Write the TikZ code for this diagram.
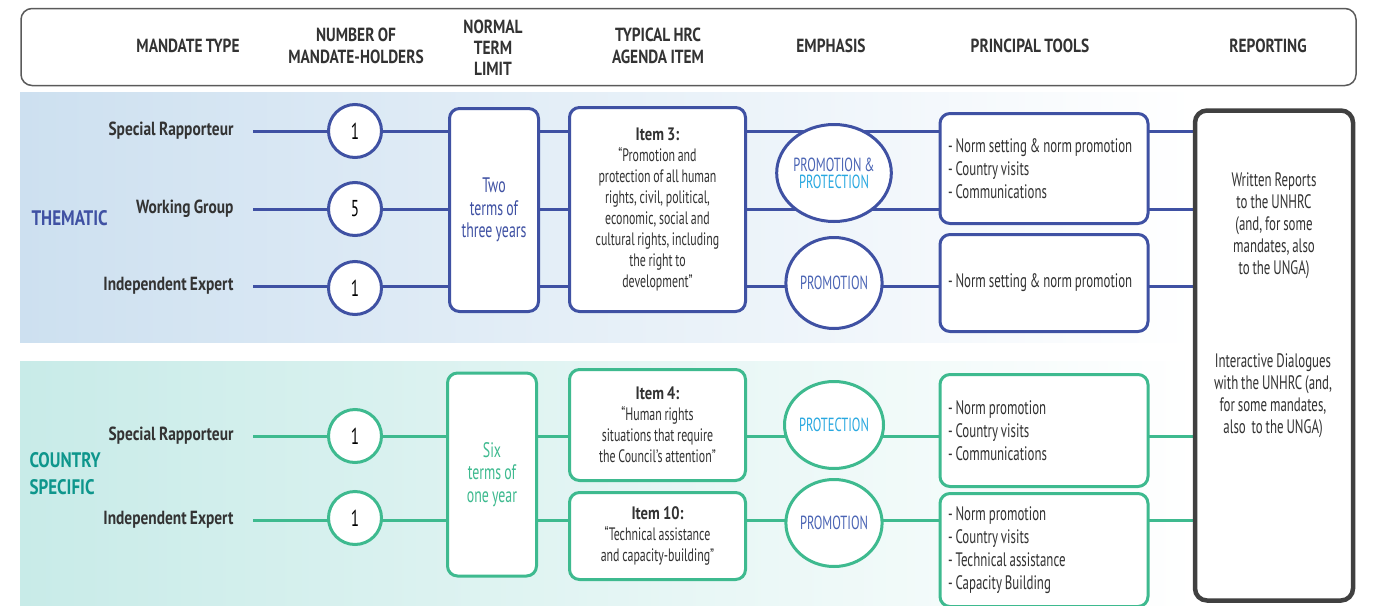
\documentclass[tikz,border=0pt]{standalone}
\usepackage{fontspec}
\setmainfont{PT Sans}[UprightFeatures={FakeStretch=0.66, WordSpace=0.85}, BoldFeatures={FakeStretch=0.81, WordSpace=0.85}]
\usetikzlibrary{shapes.geometric}
\pgfdeclarelayer{back}
\pgfdeclarelayer{lines}
\pgfsetlayers{back,lines,main}
\definecolor{blueC}{RGB}{63,81,163}
\definecolor{greenC}{RGB}{62,186,143}
\definecolor{tealT}{RGB}{14,150,140}
\definecolor{skyC}{RGB}{41,168,224}
\definecolor{promoC}{RGB}{74,100,180}
\definecolor{repC}{RGB}{64,64,64}
\definecolor{hdrLine}{RGB}{90,90,90}
\definecolor{txtC}{RGB}{51,51,51}
\definecolor{bodyC}{RGB}{50,50,50}
\definecolor{bandB}{RGB}{205,224,240}
\definecolor{bandG}{RGB}{200,235,232}
\tikzset{
 hdr/.style={font=\bfseries\fontsize{19}{21}\selectfont, text=txtC, align=center},
 lbl/.style={font=\bfseries\fontsize{19}{21}\selectfont, text=txtC, anchor=east},
 grp/.style={font=\bfseries\fontsize{21}{27}\selectfont, anchor=west, align=left},
 numc/.style={circle, draw=#1, line width=3pt, fill=white, minimum size=53pt, inner sep=0pt, font=\fontsize{23}{23}\selectfont, text=black},
 rbox/.style={draw=#1, line width=3pt, fill=white, rounded corners=10pt, inner sep=0pt, align=center},
 emph/.style={ellipse, draw=#1, line width=3pt, fill=white, inner sep=0pt, align=center, font=\fontsize{19}{17}\selectfont},
 termtxt/.style={font=\fontsize{21}{22.5}\selectfont},
 agtxt/.style={font=\fontsize{18}{21}\selectfont, text=bodyC},
 tooltxt/.style={font=\fontsize{19.5}{23}\selectfont, text=bodyC, align=flush left, text width=192pt, inner xsep=8pt},
 reptxt/.style={font=\fontsize{19.5}{22}\selectfont, text=bodyC, align=center},
 conn/.style={draw=#1, line width=3pt},
}
\begin{document}
\begin{tikzpicture}[x=1pt,y=-1pt]
\useasboundingbox (0,0) rectangle (1373,605);
% header
\node[draw=hdrLine, line width=1.5pt, rounded corners=11pt, minimum width=1335pt, minimum height=77pt, inner sep=0pt] (head) at (688.5,47) {};
\node[hdr] (h1) at (188,46) {MANDATE TYPE};
\node[hdr] (h2) at (356,46) {NUMBER OF\\[1pt]MANDATE-HOLDERS};
\node[hdr] (h3) at (493,48) {NORMAL\\TERM\\LIMIT};
\node[hdr] (h4) at (658,46) {TYPICAL HRC\\[1pt]AGENDA ITEM};
\node[hdr] (h5) at (831,46) {EMPHASIS};
\node[hdr] (h6) at (1030,46) {PRINCIPAL TOOLS};
\node[hdr] (h7) at (1268,46) {REPORTING};
% bands
\begin{pgfonlayer}{back}
\shade[left color=bandB, right color=white] (20,92) rectangle (1195,342);
\shade[left color=bandG, right color=white] (20,361) rectangle (1195,605);
\end{pgfonlayer}
% group labels
\node[grp, text=blueC] (gT) at (28,218) {THEMATIC};
\node[grp, text=tealT] (gC) at (26,474) {COUNTRY\\SPECIFIC};
% thematic rows
\node[lbl] (l1) at (237,131) {Special Rapporteur};
\node[lbl] (l2) at (237,209) {Working Group};
\node[lbl] (l3) at (237,286) {Independent Expert};
\node[numc=blueC] (n1) at (355,131) {1};
\node[numc=blueC] (n2) at (355,209) {5};
\node[numc=blueC] (n3) at (355,288) {1};
\node[rbox=blueC, minimum width=89pt, minimum height=203pt, termtxt, text=blueC] (t1) at (494,210) {Two\\terms of\\three years};
\node[rbox=blueC, minimum width=176pt, minimum height=204pt, agtxt] (a1) at (657.5,209.5) {\textbf{Item 3:}\\``Promotion and\\protection of all human\\rights, civil, political,\\economic, social and\\cultural rights, including\\the right to\\development''};
\node[emph=blueC, minimum width=105pt, minimum height=97pt] (e1) at (834,173) {\textcolor{promoC}{PROMOTION \&}\\\textcolor{skyC}{PROTECTION}};
\node[emph=blueC, minimum width=85pt, minimum height=91pt, text=promoC] (e2) at (834,283) {PROMOTION};
\node[rbox=blueC, minimum height=110pt, tooltxt] (p1) at (1044,168.5) {- Norm setting \& norm promotion\\- Country visits\\- Communications};
\node[rbox=blueC, minimum height=97pt, tooltxt] (p2) at (1044,283) {- Norm setting \& norm promotion};
% reporting
\node[draw=repC, line width=4.5pt, rounded corners=12pt, fill=white, minimum width=158pt, minimum height=490pt, inner sep=0pt] (rep) at (1274,355.5) {};
\node[reptxt] (r1) at (1274,225.5) {Written Reports\\to the UNHRC\\(and, for some\\mandates, also\\to the UNGA)};
\node[reptxt] (r2) at (1273,396) {Interactive Dialogues\\with the UNHRC (and,\\for some mandates,\\also~ to the UNGA)};
% country rows
\node[lbl] (l4) at (237,436) {Special Rapporteur};
\node[lbl] (l5) at (237,520) {Independent Expert};
\node[numc=greenC] (n4) at (355,436) {1};
\node[numc=greenC] (n5) at (355,518) {1};
\node[rbox=greenC, minimum width=89pt, minimum height=203pt, termtxt, text=greenC] (t2) at (492,474.5) {Six\\terms of\\one year};
\node[rbox=greenC, minimum width=176pt, minimum height=111pt, agtxt] (a2) at (657.5,425) {\textbf{Item 4:}\\``Human rights\\situations that require\\the Council's attention''};
\node[rbox=greenC, minimum width=176pt, minimum height=87pt, agtxt] (a3) at (657.5,536) {\textbf{Item 10:}\\``Technical assistance\\and capacity-building''};
\node[emph=greenC, minimum width=87pt, minimum height=87pt, text=skyC] (e3) at (834,425) {PROTECTION};
\node[emph=greenC, minimum width=87pt, minimum height=87pt, text=promoC] (e4) at (834,523) {PROMOTION};
\node[rbox=greenC, minimum height=112pt, tooltxt] (p3) at (1044,430.5) {- Norm promotion\\- Country visits\\- Communications};
\node[rbox=greenC, minimum height=113pt, tooltxt] (p4) at (1044,550) {- Norm promotion\\- Country visits\\- Technical assistance\\- Capacity Building};
% connectors
\coordinate (s1) at (253,131);
\coordinate (s2) at (253,209);
\coordinate (s3) at (253,286);
\coordinate (s4) at (253,436);
\coordinate (s5) at (253,520);
\begin{pgfonlayer}{lines}
\draw[conn=blueC] (s1) -- (s1 -| rep.west);
\draw[conn=blueC] (s2) -- (s2 -| rep.west);
\draw[conn=blueC] (s3) -- (s3 -| rep.west);
\draw[conn=greenC] (s4) -- (s4 -| rep.west);
\draw[conn=greenC] (s5) -- (s5 -| rep.west);
\end{pgfonlayer}
\end{tikzpicture}
\end{document}
